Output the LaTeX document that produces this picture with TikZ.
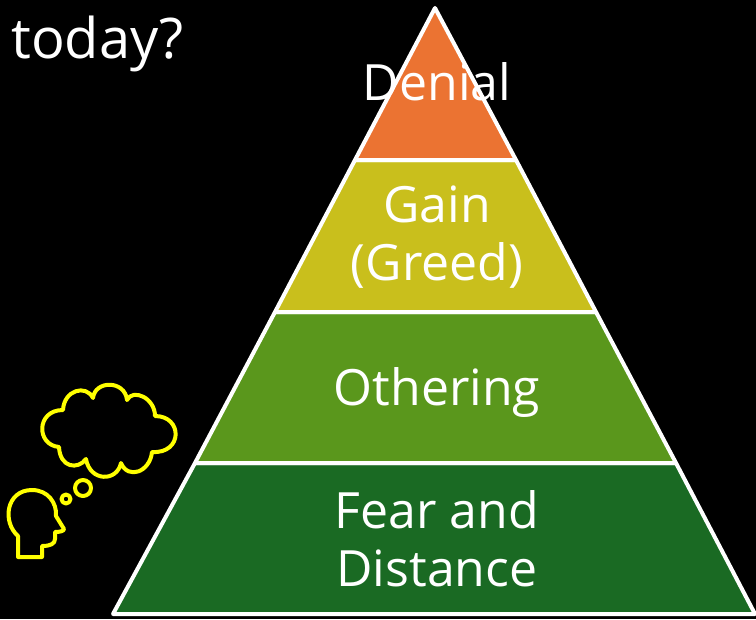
\documentclass[tikz,border=0pt]{standalone}
\usepackage{fontspec}
\setmainfont{Open Sans}
\definecolor{denialcol}{HTML}{EB7332}
\definecolor{gaincol}{HTML}{C9BF1C}
\definecolor{otheringcol}{HTML}{5A971C}
\definecolor{fearcol}{HTML}{1A6A23}
\definecolor{thinkcol}{HTML}{FFFF00}
\tikzset{
  level/.style={draw=white,line width=3pt,line join=round},
  label/.style={text=white,font=\fontsize{37.5pt}{43.5pt}\selectfont,align=center,inner sep=0},
  think/.style={draw=thinkcol,line width=3pt,line join=round}
}
\begin{document}
\begin{tikzpicture}[x=0.75pt,y=-0.75pt]
\fill[black] (0,0) rectangle (756,619);
\useasboundingbox (0,0) rectangle (756,619);
% pyramid
\filldraw[level,fill=fearcol] (195,463) -- (676,463) -- (755,614) -- (113,614) -- cycle;
\filldraw[level,fill=otheringcol] (275,312) -- (596,312) -- (676,463) -- (195,463) -- cycle;
\filldraw[level,fill=gaincol] (355,160) -- (516,160) -- (596,312) -- (275,312) -- cycle;
\filldraw[level,fill=denialcol] (435,8) -- (516,160) -- (355,160) -- cycle;
% labels
\node[label,anchor=base] (denial) at (437,100) {Denial};
\node[label] (gain) at (437,237) {Gain\\(Greed)};
\node[label,anchor=base] (othering) at (437,405) {Othering};
\node[label] (fear) at (437,539) {Fear and\\Distance};
\node[label,font=\fontsize{42pt}{50pt}\selectfont,anchor=base west] (today) at (11,58) {today?};
% head
\draw[think] (18,557) -- (18,536) .. controls (2,522) and (6,490) .. (32,490)
  .. controls (48,490) and (57,503) .. (56,516) -- (64,529)
  .. controls (64,531) and (60,532) .. (55,532) -- (55,539)
  .. controls (55,544) and (50,546) .. (42,546) -- (42,557) -- cycle;
\draw[think] (83,488) circle (8);
\draw[think] (66,499) circle (4.5);
% cloud
\draw[think] (59,447) .. controls (36,445) and (36,410) .. (63,410)
  .. controls (64,390) and (86,384) .. (93,398)
  .. controls (95,380) and (125,380) .. (127,400)
  .. controls (133,388) and (155,398) .. (155,416)
  .. controls (183,416) and (183,454) .. (152,452)
  .. controls (150,472) and (128,480) .. (121,463)
  .. controls (117,482) and (90,482) .. (86,459)
  .. controls (78,470) and (60,468) .. (59,447) -- cycle;
\end{tikzpicture}
\end{document}
